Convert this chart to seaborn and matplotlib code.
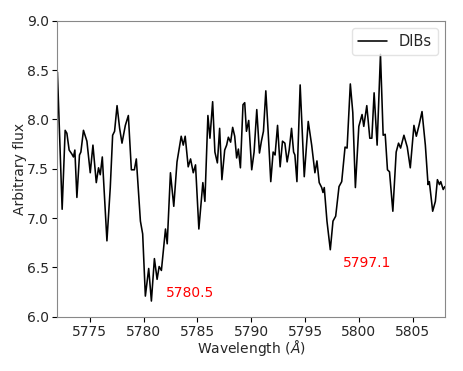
import numpy as np
import pandas as pd
import seaborn as sns
import matplotlib.pyplot as plt

# spectrum
wavelength = [
    5771.9, 5772.00, 5772.44, 5772.72, 5772.88, 5773.09, 5773.34, 5773.49, 5773.62, 5773.81,
    5774.05, 5774.18, 5774.42, 5774.74, 5775.05, 5775.30, 5775.61, 5775.82, 5775.98, 5776.17,
    5776.60, 5776.91, 5777.13, 5777.31, 5777.54, 5777.78, 5778.00, 5778.31, 5778.59, 5778.87,
    5779.15, 5779.33, 5779.71, 5779.92, 5780.17, 5780.48, 5780.73, 5781.01, 5781.26, 5781.45,
    5781.66, 5782.04, 5782.20, 5782.50, 5782.81, 5783.11, 5783.50, 5783.69, 5783.87, 5784.15,
    5784.37, 5784.62, 5784.83, 5785.14, 5785.51, 5785.70, 5785.98, 5786.17, 5786.42, 5786.63,
    5786.86, 5787.07, 5787.28, 5787.54, 5787.72, 5787.88, 5788.09, 5788.28, 5788.47, 5788.65,
    5788.81, 5789.00, 5789.24, 5789.40, 5789.56, 5789.77, 5790.05, 5790.27, 5790.52, 5790.77,
    5790.95, 5791.14, 5791.36, 5791.57, 5791.82, 5792.04, 5792.22, 5792.45, 5792.69, 5792.91,
    5793.13, 5793.34, 5793.53, 5793.75, 5793.94, 5794.06, 5794.25, 5794.55, 5794.93, 5795.30,
    5795.62, 5795.92, 5796.11, 5796.32, 5796.55, 5796.67, 5796.79, 5797.04, 5797.35, 5797.60,
    5797.85, 5798.16, 5798.41, 5798.72, 5798.91, 5799.21, 5799.44, 5799.68, 5800.00, 5800.30,
    5800.46, 5800.74, 5801.02, 5801.21, 5801.42, 5801.70, 5802.01, 5802.26, 5802.45, 5802.66,
    5802.85, 5803.16, 5803.47, 5803.69, 5803.88, 5804.19, 5804.50, 5804.78, 5805.12, 5805.34,
    5805.59, 5805.87, 5806.18, 5806.43, 5806.55, 5806.86, 5807.11, 5807.30, 5807.49, 5807.61,
    5807.84, 5807.99, 5808.1,
]
flux = [
    8.30, 8.48, 7.09, 7.89, 7.86, 7.69, 7.65, 7.62, 7.69, 7.21,
    7.64, 7.67, 7.89, 7.78, 7.46, 7.74, 7.36, 7.51, 7.44, 7.62,
    6.77, 7.31, 7.84, 7.88, 8.14, 7.91, 7.76, 7.94, 8.04, 7.49,
    7.49, 7.60, 6.97, 6.84, 6.21, 6.49, 6.16, 6.59, 6.38, 6.51,
    6.47, 6.89, 6.74, 7.46, 7.12, 7.57, 7.83, 7.74, 7.83, 7.52,
    7.60, 7.46, 7.54, 6.89, 7.36, 7.17, 8.04, 7.81, 8.18, 7.67,
    7.56, 7.91, 7.39, 7.69, 7.74, 7.82, 7.77, 7.92, 7.83, 7.61,
    7.70, 7.51, 8.15, 8.17, 7.88, 7.99, 7.49, 7.67, 8.10, 7.66,
    7.78, 7.88, 8.29, 7.89, 7.37, 7.67, 7.64, 7.94, 7.52, 7.78,
    7.76, 7.57, 7.69, 7.91, 7.67, 7.64, 7.37, 8.35, 7.42, 7.98,
    7.74, 7.46, 7.58, 7.36, 7.31, 7.26, 7.31, 6.97, 6.68, 6.97,
    7.02, 7.32, 7.37, 7.72, 7.71, 8.36, 8.07, 7.31, 7.93, 8.05,
    7.93, 8.14, 7.81, 7.81, 8.27, 7.74, 8.66, 7.84, 7.85, 7.49,
    7.47, 7.07, 7.67, 7.76, 7.71, 7.84, 7.72, 7.51, 7.94, 7.83,
    7.94, 8.08, 7.74, 7.34, 7.37, 7.07, 7.17, 7.39, 7.34, 7.37,
    7.29, 7.32, 7.30,
]
dib_labels = ["5780.5", "5797.1"]
dib_pos = [(5782.05, 6.24), (5798.5, 6.55)]

df = pd.DataFrame({"wavelength": wavelength, "flux": flux})

sns.set_style("ticks")
plt.rcParams["font.family"] = ["DejaVu Sans"]

fig, ax = plt.subplots(figsize=(4.63, 3.71), dpi=100)
fig.subplots_adjust(left=0.124, right=0.961, top=0.944, bottom=0.146)

sns.lineplot(data=df, x="wavelength", y="flux", sort=False, estimator=None,
             color="black", linewidth=1.15, label="DIBs", ax=ax)

for lab, (x, y) in zip(dib_labels, dib_pos):
    ax.text(x, y, lab, color="red", fontsize=10, va="center", ha="left")

ax.set_xlim(5772, 5808)
ax.set_ylim(6.0, 9.0)
ax.set_xticks([5775, 5780, 5785, 5790, 5795, 5800, 5805])
ax.set_yticks([6.0, 6.5, 7.0, 7.5, 8.0, 8.5, 9.0])
ax.tick_params(labelsize=10, length=3.5, color="black", pad=2.5)
ax.set_xlabel("Wavelength ($\\AA$)", fontsize=10, labelpad=-1)
ax.set_ylabel("Arbitrary flux", fontsize=10, labelpad=0)
for sp in ax.spines.values():
    sp.set_color("#888888")
    sp.set_visible(True)

leg = ax.legend(loc="upper right", fontsize=10.5, frameon=True)
leg.get_frame().set_edgecolor("#dddddd")

fig.savefig("out.png", dpi=100)
